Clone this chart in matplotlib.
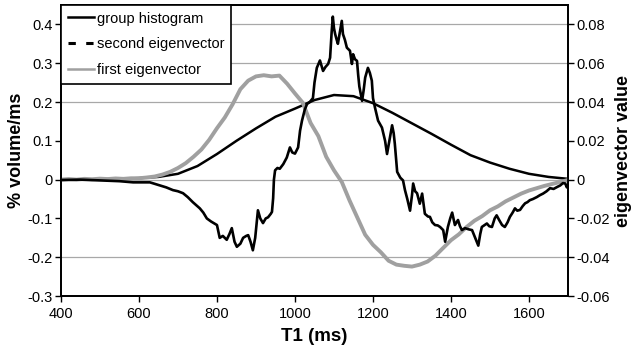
import matplotlib
matplotlib.use("Agg")
import matplotlib.pyplot as plt
from matplotlib.lines import Line2D

plt.rcParams['font.family'] = ['Liberation Sans', 'DejaVu Sans']

# group histogram (% volume/ms)
hist_t1 = [400, 450, 500, 550, 600, 650, 700, 750, 800, 850, 900, 950, 1000, 1050,
           1100, 1150, 1200, 1250, 1300, 1350, 1400, 1450, 1500, 1550, 1600, 1650, 1700]
hist_val = [0.0, 0.0, 0.001, 0.002, 0.004, 0.007, 0.015, 0.035, 0.066, 0.1, 0.132, 0.162,
            0.183, 0.205, 0.218, 0.215, 0.197, 0.172, 0.145, 0.118, 0.09, 0.063, 0.044,
            0.028, 0.015, 0.007, 0.002]

# first eigenvector (eigenvector value)
ev1_t1 = [400, 420, 440, 460, 480, 500, 520, 540, 560, 580, 600, 620, 640, 660, 680, 700,
          720, 740, 760, 780, 800, 820, 840, 860, 880, 900, 920, 940, 960, 980, 1000, 1020,
          1040, 1060, 1080, 1100, 1120, 1140, 1160, 1180, 1200, 1220, 1240, 1260, 1280,
          1300, 1320, 1340, 1360, 1380, 1400, 1420, 1440, 1460, 1480, 1500, 1520, 1540,
          1560, 1580, 1600, 1620, 1640, 1660, 1680, 1700]
ev1_val = [0.0, 0.0003, 0.0, 0.0004, 0.0002, 0.0005, 0.0003, 0.0006, 0.0004, 0.0007,
           0.0007, 0.0011, 0.0016, 0.0026, 0.004, 0.006, 0.0085, 0.0118, 0.0155, 0.0205,
           0.0265, 0.032, 0.0388, 0.0466, 0.051, 0.0532, 0.0538, 0.0532, 0.0536, 0.0494,
           0.0444, 0.0396, 0.0292, 0.0224, 0.0118, 0.0048, -0.0012, -0.0108, -0.0196,
           -0.0284, -0.0336, -0.0374, -0.0418, -0.0438, -0.0444, -0.0448, -0.0438, -0.0422,
           -0.0392, -0.0352, -0.0312, -0.0282, -0.0244, -0.0212, -0.0188, -0.0158, -0.0138,
           -0.0112, -0.0092, -0.0072, -0.0056, -0.0044, -0.0032, -0.0022, -0.0012, -0.0002]

# second eigenvector (eigenvector value)
ev2_t1 = [400, 450, 500, 550, 585, 628, 654, 670, 687, 700, 713, 725, 738, 756, 765, 774,
          785, 800, 807, 815, 825, 832, 838, 845, 851, 860, 867, 875, 880, 886, 892, 898,
          905, 911, 918, 925, 931, 938, 941, 944, 946, 949, 955, 961, 970, 979, 987, 993,
          1000, 1008, 1013, 1018, 1025, 1031, 1038, 1046, 1050, 1056, 1064, 1072, 1078,
          1085, 1090, 1094, 1097, 1100, 1103, 1107, 1110, 1115, 1120, 1123, 1128, 1133,
          1141, 1146, 1149, 1154, 1159, 1162, 1165, 1167, 1172, 1176, 1180, 1187, 1192,
          1197, 1200, 1205, 1213, 1223, 1231, 1236, 1242, 1249, 1253, 1256, 1262, 1270,
          1277, 1282, 1288, 1295, 1300, 1303, 1308, 1313, 1320, 1326, 1333, 1341, 1346,
          1352, 1359, 1366, 1372, 1380, 1385, 1392, 1398, 1403, 1410, 1418, 1423, 1428,
          1436, 1445, 1454, 1460, 1467, 1470, 1475, 1479, 1485, 1492, 1498, 1505, 1512,
          1517, 1524, 1531, 1538, 1545, 1551, 1558, 1564, 1570, 1577, 1584, 1590, 1596,
          1602, 1610, 1620, 1628, 1636, 1645, 1654, 1663, 1672, 1680, 1687, 1693, 1697, 1700]
ev2_val = [-0.0002, 0.0, -0.0004, -0.0008, -0.0014, -0.0014, -0.003, -0.004, -0.0054,
           -0.006, -0.007, -0.009, -0.0116, -0.0148, -0.017, -0.02, -0.0216, -0.0234, -0.03,
           -0.029, -0.031, -0.028, -0.025, -0.032, -0.0346, -0.033, -0.03, -0.029, -0.0286,
           -0.032, -0.0364, -0.03, -0.0158, -0.02, -0.0224, -0.02, -0.0194, -0.0176, -0.0166,
           -0.0096, 0.0, 0.0048, 0.006, 0.0056, 0.008, 0.0114, 0.0166, 0.014, 0.0134, 0.0166,
           0.0252, 0.0304, 0.036, 0.039, 0.04, 0.042, 0.05, 0.0576, 0.0614, 0.056, 0.058,
           0.0596, 0.0628, 0.076, 0.084, 0.078, 0.075, 0.072, 0.07, 0.076, 0.0818, 0.075,
           0.072, 0.068, 0.0664, 0.0596, 0.0646, 0.062, 0.0612, 0.054, 0.048, 0.0458, 0.0406,
           0.046, 0.0526, 0.0576, 0.055, 0.051, 0.042, 0.0372, 0.0304, 0.0268, 0.02, 0.0132,
           0.02, 0.028, 0.024, 0.0184, 0.004, 0.001, -0.0004, -0.0054, -0.01, -0.016, -0.008,
           -0.002, -0.006, -0.007, -0.0124, -0.0072, -0.0176, -0.019, -0.0192, -0.022,
           -0.0234, -0.0236, -0.0244, -0.026, -0.032, -0.0244, -0.02, -0.017, -0.0234,
           -0.0208, -0.024, -0.026, -0.025, -0.0256, -0.026, -0.029, -0.0326, -0.034, -0.028,
           -0.0244, -0.0236, -0.0226, -0.024, -0.0244, -0.02, -0.0184, -0.021, -0.0234,
           -0.0244, -0.022, -0.0192, -0.017, -0.0148, -0.016, -0.0156, -0.0136, -0.0122,
           -0.0116, -0.0106, -0.01, -0.009, -0.008, -0.0072, -0.006, -0.0044, -0.0048,
           -0.0038, -0.003, -0.0018, -0.002, -0.004, -0.003]

grid_vals = [0.4, 0.3, 0.2, 0.0, -0.2]
left_ticks = [-0.3, -0.2, -0.1, 0, 0.1, 0.2, 0.3, 0.4]
left_labels = ['-0.3', '-0.2', '-0.1', '0', '0.1', '0.2', '0.3', '0.4']
right_ticks = [-0.06, -0.04, -0.02, 0, 0.02, 0.04, 0.06, 0.08]
right_labels = ['-0.06', '-0.04', '-0.02', '0', '0.02', '0.04', '0.06', '0.08']
x_ticks = [400, 600, 800, 1000, 1200, 1400, 1600]

fig = plt.figure(figsize=(6.35, 3.55), dpi=100)
ax = fig.add_axes([0.096, 0.166, 0.7985, 0.820])
ax2 = ax.twinx()

for g in grid_vals:
    ax.axhline(g, color='#a8a8a8', lw=0.9, zorder=0)

ax.plot(hist_t1, hist_val, color='black', lw=1.8, zorder=3)
ax2.plot(ev1_t1, ev1_val, color='#a0a0a0', lw=2.8, zorder=2)
ax2.plot(ev2_t1, ev2_val, color='black', lw=1.9, zorder=3)

ax.set_xlim(400, 1700)
ax.set_ylim(-0.3, 0.45)
ax2.set_ylim(-0.06, 0.09)
ax.set_xticks(x_ticks)
ax.set_xticklabels([str(v) for v in x_ticks])
ax.set_yticks(left_ticks)
ax.set_yticklabels(left_labels)
ax2.set_yticks(right_ticks)
ax2.set_yticklabels(right_labels)

for a in (ax, ax2):
    a.tick_params(direction='out', length=4, width=1.0, labelsize=10.5, colors='black', pad=2)
    for s in a.spines.values():
        s.set_linewidth(1.3)
ax.tick_params(axis='x', pad=4)

ax.set_xlabel('T1 (ms)', fontsize=13.5, fontweight='bold', labelpad=5)
ax.set_ylabel('% volume/ms', fontsize=13, fontweight='bold', labelpad=2)
ax2.set_ylabel('eigenvector value', fontsize=13, fontweight='bold', labelpad=4)

handles = [Line2D([], [], color='black', lw=1.8),
           Line2D([], [], color='black', lw=2.2, dashes=(2.4, 3.4)),
           Line2D([], [], color='#a0a0a0', lw=1.8)]
labels = ['group histogram', 'second eigenvector', 'first eigenvector']
leg = ax2.legend(handles, labels, loc='upper left', bbox_to_anchor=(0, 1), borderaxespad=0,
                 fontsize=10.5, frameon=True, fancybox=False, framealpha=1, edgecolor='black',
                 handlelength=1.8, handletextpad=0.2, labelspacing=0.82, borderpad=0.45)
leg.get_frame().set_linewidth(1.2)

fig.savefig('out.png', dpi=100)
